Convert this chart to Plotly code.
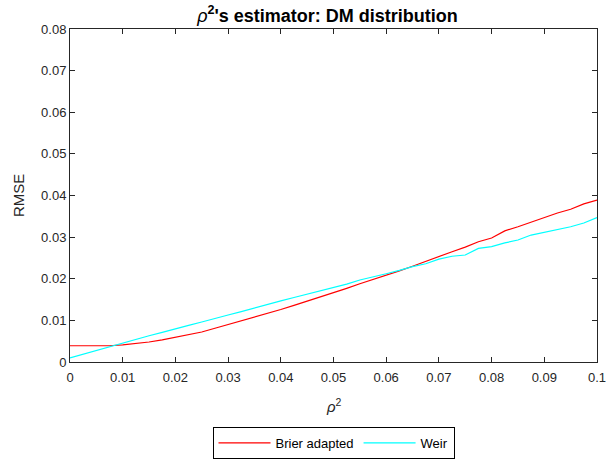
import plotly.graph_objects as go

rho2 = [0.0, 0.0025, 0.005, 0.0075, 0.01, 0.0125, 0.015, 0.0175, 0.02, 0.0225,
        0.025, 0.0275, 0.03, 0.0325, 0.035, 0.0375, 0.04, 0.0425, 0.045, 0.0475,
        0.05, 0.0525, 0.055, 0.0575, 0.06, 0.0625, 0.065, 0.0675, 0.07, 0.0725,
        0.075, 0.0775, 0.08, 0.0825, 0.085, 0.0875, 0.09, 0.0925, 0.095, 0.0975, 0.1]

brier = [0.0039, 0.0039, 0.0039, 0.0039, 0.0041, 0.0044, 0.0048, 0.0053, 0.0059, 0.0065,
         0.0072, 0.0081, 0.0090, 0.0099, 0.0107, 0.0117, 0.0126, 0.0136, 0.0146, 0.0156,
         0.0167, 0.0177, 0.0188, 0.0198, 0.0208, 0.0219, 0.0230, 0.0242, 0.0254, 0.0265,
         0.0276, 0.0289, 0.0298, 0.0315, 0.0325, 0.0336, 0.0347, 0.0358, 0.0367, 0.0380, 0.0389]

weir = [0.0010, 0.0019, 0.0028, 0.0037, 0.0046, 0.0055, 0.0063, 0.0071, 0.0080, 0.0088,
        0.0096, 0.0105, 0.0113, 0.0121, 0.0130, 0.0138, 0.0147, 0.0155, 0.0163, 0.0171,
        0.0179, 0.0187, 0.0197, 0.0204, 0.0212, 0.0220, 0.0229, 0.0236, 0.0247, 0.0254,
        0.0257, 0.0273, 0.0277, 0.0286, 0.0293, 0.0305, 0.0312, 0.0319, 0.0325, 0.0334, 0.0347]

x_ticks = [0, 0.01, 0.02, 0.03, 0.04, 0.05, 0.06, 0.07, 0.08, 0.09, 0.1]
x_tick_labels = ["0", "0.01", "0.02", "0.03", "0.04", "0.05", "0.06", "0.07", "0.08", "0.09", "0.1"]
y_ticks = [0, 0.01, 0.02, 0.03, 0.04, 0.05, 0.06, 0.07, 0.08]
y_tick_labels = ["0", "0.01", "0.02", "0.03", "0.04", "0.05", "0.06", "0.07", "0.08"]

axis_color = "#262626"
font_family = "Liberation Sans, Arial, sans-serif"

fig = go.Figure()
fig.add_trace(go.Scatter(x=rho2, y=brier, mode="lines", name="Brier adapted",
                         line=dict(color="#FF0000", width=1.2)))
fig.add_trace(go.Scatter(x=rho2, y=weir, mode="lines", name="Weir",
                         line=dict(color="#00FFFF", width=1.2)))

axis_common = dict(showgrid=False, zeroline=False, showline=True, linecolor=axis_color,
                   linewidth=1, mirror="ticks", ticks="inside", ticklen=5,
                   tickcolor=axis_color, automargin=False, ticklabeloverflow="allow",
                   tickfont=dict(size=13, color=axis_color, family=font_family))

fig.update_layout(
    width=607, height=459,
    paper_bgcolor="white", plot_bgcolor="white",
    margin=dict(l=70, r=10, t=29, b=97),
    font=dict(family=font_family, color=axis_color),
    title=dict(
        text="<span style='font-weight:normal'><i>ρ</i></span><b><sup>2</sup>'s estimator: DM distribution</b>",
        xref="paper", x=0.4886, xanchor="center",
        yref="container", y=0.966, yanchor="middle",
        font=dict(size=18, color="black", family=font_family)),
    xaxis=dict(range=[0, 0.1], tickvals=x_ticks, ticktext=x_tick_labels, ticklabelstandoff=3,
               **axis_common),
    yaxis=dict(range=[0, 0.08], tickvals=y_ticks, ticktext=y_tick_labels,
               **axis_common),
    annotations=[
        dict(text="RMSE", xref="paper", yref="paper", x=-0.0977, y=0.5,
             xanchor="center", yanchor="middle", textangle=-90, showarrow=False,
             font=dict(size=15, color=axis_color, family=font_family)),
        dict(text="<i>ρ</i><sup>2</sup>", xref="paper", yref="paper", x=0.5, y=-0.13,
             xanchor="center", yanchor="middle", showarrow=False,
             font=dict(size=15, color=axis_color, family=font_family)),
    ],
    legend=dict(orientation="h", xref="paper", x=0.5, xanchor="center",
                yref="container", y=0.07, yanchor="top",
                bordercolor="black", borderwidth=1, bgcolor="white",
                font=dict(size=13, color="black", family=font_family),
                itemwidth=52, tracegroupgap=0),
    showlegend=True,
)

fig.write_html("out.html", config={"displayModeBar": False},
               post_script="document.body.style.margin='0';")
